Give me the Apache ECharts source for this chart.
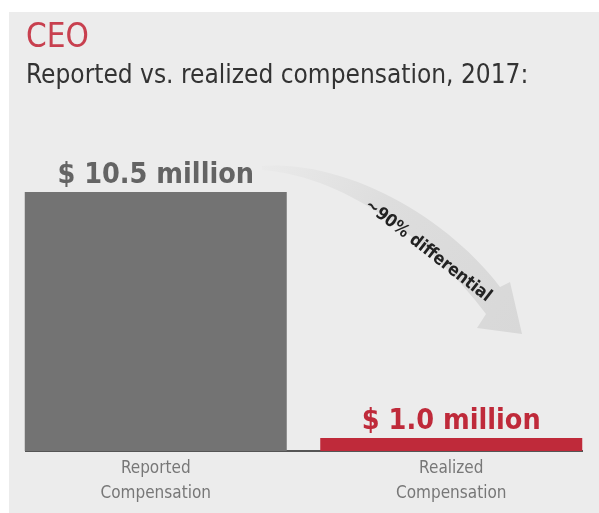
<!DOCTYPE html>
<html>
<head>
<meta charset="utf-8">
<script src="https://cdn.jsdelivr.net/npm/echarts@6/dist/echarts.min.js"></script>
<style>
html,body{margin:0;padding:0;background:#fff;}
#c{width:599px;height:513px;}
</style>
</head>
<body>
<div id="c"></div>
<script>
var categories = ['Reported\nCompensation', 'Realized\nCompensation'];
var values = [10.5, 1.0];
var valueLabels = ['$ 10.5 million', '$ 1.0 million'];
var barColors = ['#737373', '#bf2a3a'];
var labelColors = ['#646464', '#bf2a3a'];
var titleText = 'CEO';
var subtitleText = 'Reported vs. realized compensation, 2017:';
var arrowText = '~90% differential';

var FONT = '"Liberation Sans Narrow", "DejaVu Sans Condensed", sans-serif';
var chart = echarts.init(document.getElementById('c'));

function bez(p0, p1, p2, p3, n) {
  var out = [];
  for (var i = 0; i <= n; i++) {
    var t = i / n, u = 1 - t;
    out.push([
      u*u*u*p0[0] + 3*u*u*t*p1[0] + 3*u*t*t*p2[0] + t*t*t*p3[0],
      u*u*u*p0[1] + 3*u*u*t*p1[1] + 3*u*t*t*p2[1] + t*t*t*p3[1]
    ]);
  }
  return out;
}
var upper = bez([262,166],[345,160],[445,215],[500,287], 30);
var lower = bez([486,314],[430,240],[345,176],[262,170], 30);
var arrowPts = upper.concat([[510,282],[522,334],[477,328]]).concat(lower);

var option = {
  backgroundColor: '#ffffff',
  animation: false,
  title: [
    { text: titleText, left: 21, top: 17,
      textStyle: { fontFamily: FONT, fontSize: 33, fontWeight: 'normal', color: '#c8404f' } },
    { text: subtitleText, left: 21, top: 58,
      textStyle: { fontFamily: FONT, fontSize: 26, fontWeight: 'normal', color: '#333333' } }
  ],
  grid: { left: 8, width: 592, top: 192, bottom: 62, containLabel: false },
  xAxis: {
    type: 'category',
    data: categories,
    axisLine: { show: false },
    axisTick: { show: false },
    axisLabel: { fontFamily: FONT, fontSize: 17, color: '#777777', lineHeight: 25, margin: 5 }
  },
  yAxis: { type: 'value', min: 0.5, max: 10.5, show: false, splitLine: { show: false } },
  series: [{
    type: 'bar',
    barWidth: 262,
    data: values.map(function (v, i) {
      return {
        value: v,
        itemStyle: { color: barColors[i] },
        label: { color: labelColors[i] }
      };
    }),
    label: {
      show: true, position: 'top', distance: 2,
      fontFamily: FONT, fontSize: 28.5, fontWeight: 'bold',
      formatter: function (p) { return valueLabels[p.dataIndex]; }
    }
  }]
};
chart.setOption(option);

var baseY = chart.convertToPixel({ yAxisIndex: 0 }, 0.5);
chart.setOption({
  graphic: [
    { type: 'rect', z: -10, silent: true,
      shape: { x: 9, y: 12, width: 590, height: 501 },
      style: { fill: '#ececec' } },
    { type: 'line', z: 1, silent: true,
      shape: { x1: 25, y1: baseY, x2: 583, y2: baseY },
      style: { stroke: '#555555', lineWidth: 2 } },
    { type: 'polygon', z: 0, silent: true,
      shape: { points: arrowPts },
      style: {
        fill: {
          type: 'linear', x: 0, y: 0, x2: 1, y2: 1,
          colorStops: [
            { offset: 0, color: '#eaeaea' },
            { offset: 0.4, color: '#dddddd' },
            { offset: 1, color: '#d8d8d8' }
          ]
        }
      } },
    { type: 'text', z: 2, silent: true,
      x: 428, y: 251, rotation: -0.66,
      style: {
        text: arrowText, fontFamily: FONT, fontSize: 17.5, fontWeight: 'bold',
        fill: '#222222', align: 'center', verticalAlign: 'middle'
      } }
  ]
});
</script>
</body>
</html>
